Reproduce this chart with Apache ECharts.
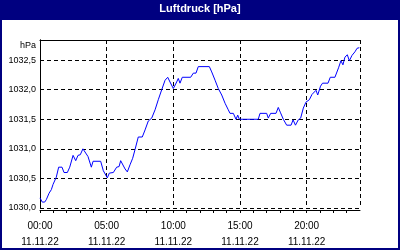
<!DOCTYPE html>
<html>
<head>
<meta charset="utf-8">
<script src="https://cdn.jsdelivr.net/npm/echarts@6/dist/echarts.min.js"></script>
<style>
html,body{margin:0;padding:0;background:#fff;}
#c{width:400px;height:250px;}
</style>
</head>
<body>
<div id="c"></div>
<script>
var titleText = 'Luftdruck [hPa]';
var unitName = 'hPa';
var dateLabel = '11.11.22';
var hours = [0.0,0.17,0.35,0.47,0.68,0.85,0.98,1.22,1.40,1.65,1.80,2.05,2.23,2.48,2.68,2.85,3.02,3.22,3.35,3.60,3.85,3.98,4.55,4.75,5.05,5.20,5.50,5.75,5.93,6.05,6.20,6.38,6.55,6.75,6.95,7.13,7.37,7.67,7.88,8.12,8.38,8.63,8.87,9.13,9.38,9.58,9.75,10.0,10.25,10.37,10.50,10.67,11.30,11.50,11.70,11.87,12.70,12.88,13.13,13.37,13.63,13.88,14.12,14.25,14.50,14.70,14.83,14.95,16.37,16.50,17.00,17.12,17.30,17.70,17.87,18.02,18.25,18.50,18.83,18.98,19.16,19.37,19.55,19.75,19.95,20.2,20.4,20.55,20.7,20.83,21.04,21.19,21.6,21.77,22.12,22.39,22.57,22.72,22.87,23.05,23.2,23.4,23.62,23.78,23.95];
var pressure = [1030.17,1030.10,1030.10,1030.14,1030.25,1030.31,1030.40,1030.52,1030.69,1030.69,1030.60,1030.60,1030.69,1030.89,1030.80,1030.89,1030.90,1031.00,1030.98,1030.87,1030.69,1030.79,1030.79,1030.63,1030.51,1030.59,1030.60,1030.69,1030.70,1030.80,1030.79,1030.66,1030.61,1030.73,1030.84,1030.99,1031.20,1031.20,1031.32,1031.47,1031.52,1031.66,1031.83,1032.00,1032.16,1032.21,1032.13,1032.02,1032.13,1032.19,1032.11,1032.21,1032.21,1032.28,1032.28,1032.39,1032.39,1032.30,1032.16,1032.02,1031.91,1031.77,1031.66,1031.60,1031.60,1031.50,1031.57,1031.50,1031.50,1031.60,1031.60,1031.52,1031.60,1031.60,1031.70,1031.62,1031.50,1031.40,1031.40,1031.49,1031.40,1031.49,1031.52,1031.69,1031.79,1031.83,1031.92,1031.93,1031.99,1031.91,1032.06,1032.11,1032.11,1032.21,1032.21,1032.37,1032.49,1032.42,1032.55,1032.59,1032.49,1032.58,1032.64,1032.70,1032.71];
var yMin = 1030, yMax = 1032.84, yStep = 0.5;
var xMin = 0, xMax = 24, xLabelStep = 5, xTickStep = 1;

var seriesData = hours.map(function (h, i) { return [h, pressure[i]]; });
function pad(n){ return (n < 10 ? '0' : '') + n; }

var chart = echarts.init(document.getElementById('c'), null, {renderer: 'canvas'});
var dash = {color: '#000', width: 1, type: [4, 3]};
var font = 'Liberation Sans';
chart.setOption({
  animation: false,
  backgroundColor: '#fff',
  graphic: [
    {type: 'rect', shape: {x: 0, y: 0, width: 400, height: 20}, style: {fill: '#000080'}, z: 0},
    {type: 'rect', shape: {x: 1, y: 1, width: 398, height: 248}, style: {fill: null, stroke: '#000080', lineWidth: 2}, z: 0},
    {type: 'text', left: 'center', top: 3, style: {text: titleText, fill: '#fff', font: 'bold 11px "Liberation Sans"'}, z: 10}
  ],
  grid: {left: 40, right: 40, top: 40, bottom: 42},
  xAxis: [{
    type: 'value', min: xMin, max: xMax, interval: xTickStep, position: 'bottom', offset: 2,
    axisLine: {show: true, lineStyle: {color: '#000', width: 1}},
    axisTick: {show: true, length: 3, lineStyle: {color: '#000'}},
    splitLine: {show: false},
    axisLabel: {
      showMaxLabel: false, margin: 8, color: '#000', fontFamily: font, fontSize: 10, lineHeight: 16,
      formatter: function (v) { return (v % xLabelStep === 0) ? pad(v) + ':00\n' + dateLabel : ''; }
    }
  }, {
    type: 'value', min: xMin, max: xMax, interval: xLabelStep, position: 'top',
    axisLine: {show: true, lineStyle: {color: '#000', width: 1}},
    axisTick: {show: false}, axisLabel: {show: false},
    splitLine: {show: true, lineStyle: dash}
  }],
  yAxis: [{
    type: 'value', min: yMin, max: yMax, interval: yStep, position: 'left',
    name: unitName, nameLocation: 'end', nameGap: -6,
    nameTextStyle: {align: 'right', verticalAlign: 'middle', padding: [0, 4, 0, 0], color: '#000', fontFamily: font, fontSize: 9},
    axisLine: {show: true, lineStyle: {color: '#000', width: 1}},
    axisTick: {show: false},
    splitLine: {show: true, lineStyle: dash},
    axisLabel: {
      showMaxLabel: false, margin: 4, color: '#000', fontFamily: font, fontSize: 9,
      formatter: function (v) { return v.toFixed(1).replace('.', ','); }
    }
  }, {
    type: 'value', min: yMin, max: yMax, interval: yStep, position: 'right',
    axisLine: {show: true, lineStyle: {color: '#000', width: 1}},
    axisTick: {show: false}, axisLabel: {show: false}, splitLine: {show: false}
  }],
  series: [{
    type: 'line', xAxisIndex: 0, yAxisIndex: 0, data: seriesData,
    showSymbol: false, symbol: 'none',
    lineStyle: {color: '#0000ff', width: 1}
  }]
});
</script>
</body>
</html>
